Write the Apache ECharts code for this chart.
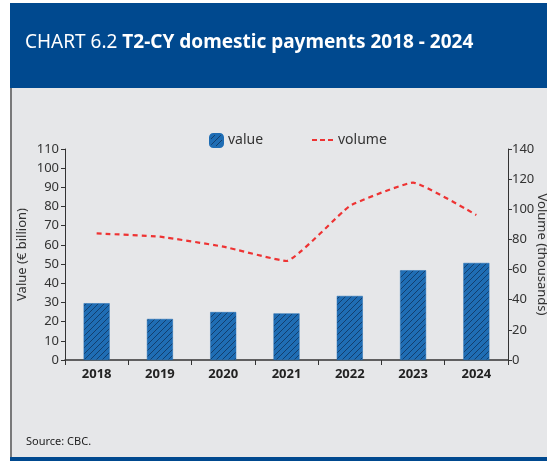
<!DOCTYPE html>
<html lang="en">
<head>
    <meta charset="UTF-8">
    <title>T2-CY domestic payments</title>
    <script src="https://cdn.jsdelivr.net/npm/echarts@6/dist/echarts.min.js"></script>
    <style>
        html, body { margin: 0; padding: 0; background: #fff; }
    </style>
</head>
<body>
<div id="main" style="width: 547px;height:461px;"></div>
<script>
    var years = ['2018', '2019', '2020', '2021', '2022', '2023', '2024'];
    var valueData = [29.6, 21.4, 25.0, 24.3, 33.4, 46.8, 50.6];
    var volumeData = [84, 81.8, 75.2, 65.7, 102.2, 117.7, 96.2];

    // hatched fill for the bars
    function hatch() {
        var c = document.createElement('canvas');
        c.width = 6;
        c.height = 6;
        var ctx = c.getContext('2d');
        ctx.fillStyle = '#1f6db4';
        ctx.fillRect(0, 0, 6, 6);
        ctx.strokeStyle = '#123f6e';
        ctx.lineWidth = 1;
        ctx.beginPath();
        ctx.moveTo(0, 6); ctx.lineTo(6, 0);
        ctx.moveTo(-3, 3); ctx.lineTo(3, -3);
        ctx.moveTo(3, 9); ctx.lineTo(9, 3);
        ctx.stroke();
        return c;
    }
    var barFill = {image: hatch(), repeat: 'repeat'};

    var font = 'Noto Sans';
    var myChart = echarts.init(document.getElementById('main'));
    var option = {
        backgroundColor: '#fff',
        textStyle: {fontFamily: font},
        graphic: [
            {type: 'rect', shape: {x: 10, y: 88, width: 537, height: 370}, style: {fill: '#e6e7e9'}, z: -10},
            {type: 'rect', shape: {x: 10, y: 3, width: 537, height: 85}, style: {fill: '#00498f'}, z: -10},
            {type: 'rect', shape: {x: 10, y: 457, width: 537, height: 4}, style: {fill: '#00498f'}, z: -10},
            {type: 'line', shape: {x1: 11, y1: 88, x2: 11, y2: 457}, style: {stroke: '#555', lineWidth: 1.5}, z: -9},
            {
                type: 'text', left: 25, top: 33,
                style: {
                    text: '{a|CHART 6.2 }{b|T2-CY domestic payments 2018 - 2024}',
                    rich: {
                        a: {fontSize: 19, fill: '#fff', fontFamily: font},
                        b: {fontSize: 19, fill: '#fff', fontWeight: 'bold', fontFamily: font}
                    }
                }
            },
            {type: 'text', left: 26, top: 436, style: {text: 'Source: CBC.', fontSize: 11, fill: '#222', fontFamily: font}}
        ],
        legend: [
            {
                data: ['value'], left: 204, top: 128,
                itemWidth: 13, itemHeight: 13, itemGap: 8,
                textStyle: {fontSize: 14, color: '#333', fontFamily: font}
            },
            {
                data: [{name: 'volume', icon: 'path://M0,0h5v2H0z M8,0h5v2H8z M16,0h5v2H16z'}],
                left: 307, top: 128,
                itemWidth: 21, itemHeight: 2,
                textStyle: {fontSize: 14, color: '#333', fontFamily: font}
            }
        ],
        grid: {left: 65, right: 39, top: 149, bottom: 101, outerBoundsMode: 'none'},
        xAxis: {
            type: 'category',
            data: years,
            axisLine: {lineStyle: {color: '#333', width: 1.5}},
            axisTick: {show: true, length: 5, lineStyle: {color: '#333'}},
            axisLabel: {fontSize: 13, fontWeight: 'bold', color: '#222', margin: 8}
        },
        yAxis: [
            {
                type: 'value', min: 0, max: 110, interval: 10,
                name: 'Value (€ billion)', nameLocation: 'middle', nameGap: 36,
                nameMoveOverlap: false,
                nameTextStyle: {fontSize: 13, color: '#333'},
                axisLine: {show: true, lineStyle: {color: '#333'}},
                axisTick: {show: true, length: 4, lineStyle: {color: '#333'}},
                axisLabel: {fontSize: 13, color: '#333', margin: 6},
                splitLine: {show: false}
            },
            {
                type: 'value', min: 0, max: 140, interval: 20,
                name: 'Volume (thousands)', nameLocation: 'middle', nameGap: 27,
                nameMoveOverlap: false,
                nameRotate: -90,
                nameTextStyle: {fontSize: 13, color: '#333'},
                axisLine: {show: true, lineStyle: {color: '#333'}},
                axisTick: {show: true, length: 4, lineStyle: {color: '#333'}},
                axisLabel: {fontSize: 13, color: '#333', margin: 4},
                splitLine: {show: false}
            }
        ],
        series: [
            {
                name: 'value',
                type: 'bar',
                yAxisIndex: 0,
                barWidth: 26,
                data: valueData,
                itemStyle: {color: barFill, borderColor: '#1f6db4', borderWidth: 0.5}
            },
            {
                name: 'volume',
                type: 'line',
                yAxisIndex: 1,
                data: volumeData,
                smooth: 0.12,
                symbol: 'none',
                lineStyle: {color: '#ee3333', width: 2.2, type: [5, 4]},
                itemStyle: {color: '#ee3333'}
            }
        ]
    };
    myChart.setOption(option);
</script>
</body>
</html>
